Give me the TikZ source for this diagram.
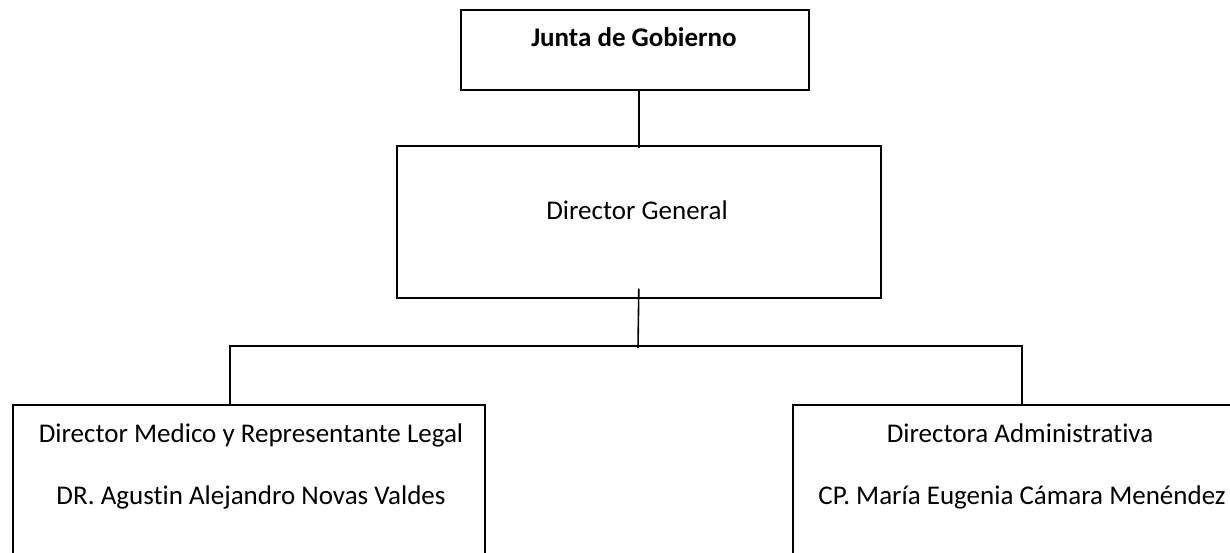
\documentclass[tikz,border=0pt]{standalone}
\usepackage{fontspec}
\setmainfont{Carlito}[Ligatures={NoCommon}]
\begin{document}
    \begin{tikzpicture}[x=1pt,y=-1pt,
            caja/.style={draw,line width=1.6pt,inner sep=0pt,anchor=north west},
            linea/.style={line width=1.6pt},
            texto/.style={anchor=base,inner sep=0pt,font=\fontsize{27}{31}\selectfont}]
        \useasboundingbox (0,0) rectangle (1230,552);
        \clip (0,0) rectangle (1230,552);
        \begin{scope}
            \node[caja,minimum width=348pt,minimum height=80pt] (junta) at (460,9) {};
            \node[caja,minimum width=484pt,minimum height=152pt] (dg) at (396,145) {};
            \node[caja,minimum width=472pt,minimum height=180pt] (med) at (12,404) {};
            \node[caja,minimum width=448pt,minimum height=180pt] (adm) at (792,404) {};
            \node[texto,font=\fontsize{27}{31}\selectfont\bfseries] (juntaT) at (634,46) {Junta de Gobierno};
            \node[texto] (dgT) at (637,219.5) {Director General};
            \node[texto] (medA) at (251,442.5) {Director Medico y Representante Legal};
            \node[texto] (medB) at (251,504.5) {DR. Agustin Alejandro Novas Valdes};
            \node[texto] (admA) at (1020,442.5) {Directora Administrativa};
            \node[texto] (admB) at (1022,504.5) {CP. María Eugenia Cámara Menéndez};
            \coordinate (bus) at (638,348);
            \coordinate (busI) at (230,346);
            \coordinate (busD) at (1022,346);
            \draw[linea] (dg.north |- junta.south)--([yshift=-3pt]dg.north);
            \draw[linea] ([yshift=10pt]dg.south)--(bus);
            \draw[linea] ([yshift=-2pt]busI |- med.north)--(busI)--(busD)--([yshift=-2pt]busD |- adm.north);
        \end{scope}
    \end{tikzpicture}
\end{document}
